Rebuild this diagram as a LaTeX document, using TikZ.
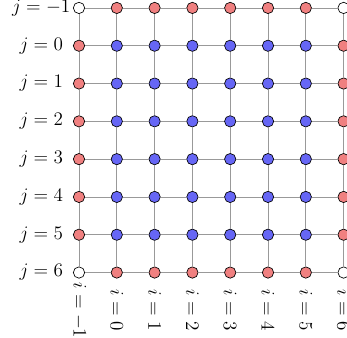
\documentclass[tikz,border=0pt]{standalone}
\usepackage{amsmath,amssymb}
\usepackage{xcolor}
\usepackage{tikz}
\usetikzlibrary{calc}
\definecolor{edgered}{HTML}{F08080}
\definecolor{innerblue}{HTML}{6666F5}
\definecolor{gridgray}{HTML}{999999}
\tikzset{
  site/.style={circle,draw=black,line width=0.5pt,minimum size=0.3cm,inner sep=0pt},
  bond/.style={gridgray,line width=0.6pt},
  lab/.style={font=\Large,inner sep=0pt}
}

\begin{document}
\begin{tikzpicture}
\useasboundingbox (-2.09,0.21) rectangle (7.09,-8.71);
% sites: corners white, boundary red, interior blue
\foreach \c in {0,...,7}{
  \foreach \r in {0,...,7}{
    \pgfmathtruncatemacro{\nb}{(\c==0)+(\c==7)+(\r==0)+(\r==7)}
    \edef\cl{\ifcase\nb innerblue\or edgered\else white\fi}
    \node[site,fill=\cl] (n\c\r) at (\c,-\r) {};}}
% bonds between neighbours
\foreach \c in {0,...,7}{
  \foreach \r in {0,...,6}{
    \pgfmathtruncatemacro{\s}{\r+1}
    \draw[bond] (n\c\r) -- (n\c\s);
    \draw[bond] (n\r\c) -- (n\s\c);}}
% indices
\foreach \r in {0,...,7}{
  \pgfmathtruncatemacro{\j}{\r-1}
  \node[lab] (lj\r) at (-1,-\r) {$j=\j$};}
\foreach \c in {0,...,7}{
  \pgfmathtruncatemacro{\i}{\c-1}
  \node[lab,rotate=-90] (li\c) at (\c,-8) {$i=\i$};}
\end{tikzpicture}
\end{document}
